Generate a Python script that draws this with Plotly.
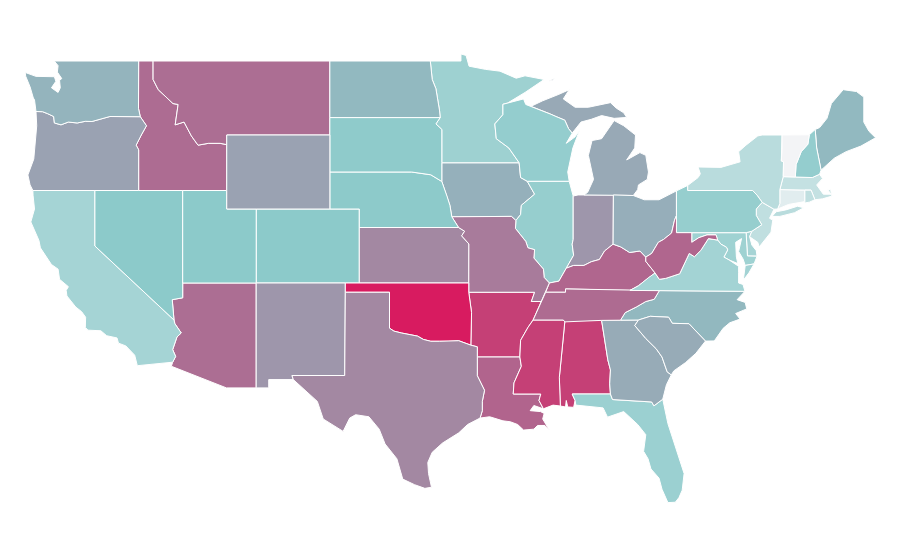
import plotly.graph_objects as go
from plotly.colors import sample_colorscale

# values (0 = the teal midpoint of the scale)
states = ["AL","AR","AZ","CA","CO","CT","DC","DE","FL","GA","IA","ID","IL","IN","KS","KY","LA","MA","MD","ME","MI","MN","MO","MS","MT","NC","ND","NE","NH","NJ","NM","NV","NY","OH","OK","OR","PA","RI","SC","SD","TN","TX","UT","VA","VT","WA","WI","WV","WY"]
values = [78,78,50,-24,0,-83,-10,-25,-15,17,14,51,-10,28,36,55,56,-54,-18,9,18,-17,43,78,50,10,9,-1,-8,-50,28,0,-44,15,100,22,-10,-50,17,-3,52,36,0,-22,-100,12,-8,55,22]

# geo subplots need the cdn topojson, which can't be fetched here, so the
# state outlines are typed by hand as lon lat rings and drawn on plain axes
outlines = {
    "WA": ["-122.76 49,-117.03 49,-117.04 46.43,-116.92 45.99,-118.98 46,-119.3 45.93,-120.2 45.73,-120.65 45.74,-121.2 45.65,-121.8 45.7,-122.3 45.55,-122.75 45.65,-122.8 46,-123.2 46.15,-123.55 46.26,-124 46.27,-124.07 46.6,-124.1 46.9,-124.18 47,-124.4 47.6,-124.7 48.18,-124.73 48.38,-124 48.17,-123.1 48.15,-122.75 48.15,-122.65 47.9,-122.95 47.55,-122.5 47.3,-122.35 47.55,-122.4 47.95,-122.25 48.05,-122.55 48.4,-122.5 48.75"],
    "OR": ["-116.92 45.99,-116.5 45.5,-116.85 45,-117.2 44.45,-117.03 44.2,-117.03 42,-120 42,-124.21 42,-124.4 42.3,-124.55 42.84,-124.15 43.7,-124.07 44.6,-123.95 45.5,-124 46.27,-123.55 46.26,-123.2 46.15,-122.8 46,-122.75 45.65,-122.3 45.55,-121.8 45.7,-121.2 45.65,-120.65 45.74,-120.2 45.73,-119.3 45.93,-118.98 46"],
    "CA": ["-124.21 42,-120 42,-120 39,-114.63 35,-114.57 34.8,-114.14 34.3,-114.43 34.08,-114.72 33.4,-114.52 33.03,-114.72 32.72,-117.12 32.53,-117.25 32.85,-117.3 33.1,-117.9 33.6,-118.4 33.75,-118.5 34.03,-119.2 34.15,-119.6 34.42,-120.47 34.45,-120.65 34.6,-120.63 35.15,-120.9 35.45,-121.3 35.7,-121.9 36.3,-121.95 36.6,-121.8 36.8,-122.05 36.95,-122.4 37.2,-122.5 37.75,-122.95 38,-123.7 38.9,-123.8 39.3,-124.35 40.3,-124.1 41,-124.2 41.75"],
    "NV": ["-120 42,-117.03 42,-114.04 42,-114.04 37,-114.04 36.2,-114.75 36.1,-114.63 35,-120 39"],
    "ID": ["-117.03 49,-116.05 49,-116.05 48,-115.7 47.45,-114.7 46.7,-114.35 46.65,-114.55 45.55,-113.95 45.7,-113.45 44.95,-113 44.45,-112.3 44.55,-111.5 44.55,-111.05 44.48,-111.05 42,-114.04 42,-117.03 42,-117.03 44.2,-117.2 44.45,-116.85 45,-116.5 45.5,-116.92 45.99,-117.04 46.43"],
    "MT": ["-116.05 49,-104.05 49,-104.05 45.94,-104.05 45,-111.05 45,-111.05 44.48,-111.5 44.55,-112.3 44.55,-113 44.45,-113.45 44.95,-113.95 45.7,-114.55 45.55,-114.35 46.65,-114.7 46.7,-115.7 47.45,-116.05 48"],
    "WY": ["-111.05 45,-104.05 45,-104.05 43,-104.05 41,-109.05 41,-111.05 41,-111.05 42,-111.05 44.48"],
    "UT": ["-114.04 42,-111.05 42,-111.05 41,-109.05 41,-109.05 37,-114.04 37"],
    "CO": ["-109.05 41,-104.05 41,-102.05 41,-102.05 40,-102.05 37,-103 37,-109.05 37"],
    "AZ": ["-114.04 37,-109.05 37,-109.05 31.33,-111.07 31.33,-114.81 32.5,-114.72 32.72,-114.52 33.03,-114.72 33.4,-114.43 34.08,-114.14 34.3,-114.57 34.8,-114.63 35,-114.75 36.1,-114.04 36.2"],
    "NM": ["-109.05 37,-103 37,-103 36.5,-103.04 32,-106.62 32,-106.53 31.78,-108.2 31.78,-108.2 31.33,-109.05 31.33"],
    "ND": ["-104.05 49,-97.23 49,-97.1 48,-96.85 47.5,-96.6 46.3,-96.56 45.94,-104.05 45.94"],
    "SD": ["-104.05 45.94,-96.56 45.94,-96.85 45.6,-96.45 45.3,-96.45 43.5,-96.45 42.49,-97.2 42.85,-98.5 43,-104.05 43"],
    "NE": ["-104.05 43,-98.5 43,-97.2 42.85,-96.45 42.49,-96.1 41.7,-95.9 41.2,-95.77 40.58,-95.31 40,-102.05 40,-102.05 41,-104.05 41"],
    "KS": ["-102.05 40,-95.31 40,-94.9 39.8,-95.1 39.55,-94.61 39.11,-94.62 37,-102.05 37"],
    "OK": ["-103 37,-102.05 37,-94.62 37,-94.62 36.5,-94.43 35.4,-94.48 33.64,-95.3 33.88,-96 33.85,-96.6 33.85,-97.2 33.85,-97.7 33.95,-98.1 34.13,-99.2 34.3,-99.7 34.4,-100 34.56,-100 36.5,-103 36.5"],
    "TX": ["-106.62 32,-103.04 32,-103 36.5,-100 36.5,-100 34.56,-99.7 34.4,-99.2 34.3,-98.1 34.13,-97.7 33.95,-97.2 33.85,-96.6 33.85,-96 33.85,-95.3 33.88,-94.48 33.64,-94.04 33.55,-94.04 33,-94.04 31.99,-93.55 31.2,-93.7 30.6,-93.7 30.1,-93.85 29.7,-94.7 29.35,-95.3 28.9,-96.4 28.35,-97.1 27.85,-97.4 27.3,-97.35 26.7,-97.15 25.96,-97.6 25.9,-98.3 26.1,-99.1 26.4,-99.5 27.5,-100.3 28.3,-100.7 29.1,-101.4 29.77,-102.3 29.88,-102.7 29.7,-103.15 28.98,-104.5 29.65,-104.9 30.6,-106 31.4,-106.53 31.78"],
    "MN": ["-97.23 49,-95.15 49,-95.15 49.38,-94.8 49.3,-94.6 48.72,-93.5 48.55,-92.5 48.45,-91.4 48.07,-90.8 48.2,-89.5 48,-90.8 47.3,-92 46.72,-92.3 46.66,-92.3 46.1,-92.85 45.6,-92.75 44.8,-91.9 44.3,-91.2 43.5,-96.45 43.5,-96.45 45.3,-96.85 45.6,-96.56 45.94,-96.6 46.3,-96.85 47.5,-97.1 48"],
    "IA": ["-96.45 43.5,-91.2 43.5,-91.1 42.7,-90.65 42.5,-90.15 41.8,-91.05 41.2,-91.1 40.7,-91.42 40.38,-91.72 40.6,-95.77 40.58,-95.9 41.2,-96.1 41.7,-96.45 42.49"],
    "MO": ["-95.77 40.58,-91.72 40.6,-91.42 40.38,-91.45 39.95,-90.75 39.25,-90.6 38.9,-90.15 38.8,-90.2 38.35,-89.55 37.75,-89.5 37.3,-89.15 37,-89.4 36.5,-89.7 36,-90.37 36,-90.15 36.5,-94.62 36.5,-94.62 37,-94.61 39.11,-95.1 39.55,-94.9 39.8,-95.31 40"],
    "AR": ["-94.62 36.5,-90.15 36.5,-90.37 36,-89.7 36,-90.25 35,-90.6 34.6,-91.1 33.9,-91.15 33,-94.04 33,-94.04 33.55,-94.48 33.64,-94.43 35.4"],
    "LA": ["-94.04 33,-91.15 33,-91.05 32.5,-91.55 31.6,-91.6 31,-89.73 31,-89.85 30.65,-89.55 30.2,-90.2 30.38,-90.45 30.1,-89.75 30.05,-89.5 29.95,-89.6 29.65,-89.15 29.05,-89.45 29.3,-89.95 29.3,-90.2 29.1,-90.9 29.05,-91.3 29.35,-91.8 29.5,-92.3 29.55,-93.2 29.77,-93.85 29.7,-93.7 30.1,-93.7 30.6,-93.55 31.2,-94.04 31.99"],
    "MS": ["-90.25 35,-88.2 35,-88.1 34.9,-88.47 31.9,-88.4 30.35,-88.9 30.4,-89.55 30.2,-89.85 30.65,-89.73 31,-91.6 31,-91.55 31.6,-91.05 32.5,-91.15 33,-91.1 33.9,-90.6 34.6"],
    "AL": ["-88.2 35,-85.6 34.98,-85.18 32.85,-85 32.3,-85.05 31.55,-85 31,-87.6 31,-87.4 30.65,-87.5 30.28,-87.9 30.3,-88 30.65,-88.05 30.3,-88.4 30.35,-88.47 31.9,-88.1 34.9"],
    "TN": ["-89.4 36.5,-88.05 36.5,-88.05 36.68,-83.68 36.6,-81.68 36.59,-82.03 36.12,-82.6 36,-83.25 35.7,-84 35.4,-84.32 34.99,-85.6 34.98,-88.1 34.9,-88.2 35,-90.25 35,-89.7 36"],
    "KY": ["-89.4 36.5,-88.05 36.5,-88.05 36.68,-83.68 36.6,-83.1 36.85,-82.4 37.3,-81.97 37.54,-82.6 38.17,-82.6 38.4,-83 38.73,-83.7 38.65,-84.3 38.95,-84.82 39.1,-85.4 38.73,-85.75 38.27,-86.3 38.15,-86.8 37.95,-87.5 37.95,-88 37.8,-88.5 37.1,-89.15 37"],
    "WV": ["-82.6 38.4,-82.2 38.6,-81.75 39.2,-81.4 39.35,-80.85 39.7,-80.65 40.4,-80.52 40.64,-80.52 39.72,-79.48 39.72,-79.48 39.2,-79 39.45,-78.45 39.6,-77.83 39.6,-77.72 39.32,-78.35 39.4,-78.87 38.76,-79.3 38.42,-79.65 38.6,-80.3 37.5,-81.25 37.25,-81.68 37.2,-81.97 37.54,-82.6 38.17"],
    "VA": ["-83.68 36.6,-81.68 36.59,-75.87 36.55,-76 36.92,-76.3 37,-76.3 37.55,-76.3 37.9,-76.95 38.25,-77.3 38.4,-77.04 38.79,-77.12 38.93,-77.5 39.1,-77.72 39.32,-78.35 39.4,-78.87 38.76,-79.3 38.42,-79.65 38.6,-80.3 37.5,-81.25 37.25,-81.68 37.2,-81.97 37.54,-82.4 37.3,-83.1 36.85",
           "-75.25 38.03,-75.85 37.95,-75.98 37.15,-75.6 37.55"],
    "MD": ["-79.48 39.72,-75.79 39.72,-75.7 38.46,-75.05 38.45,-75.25 38.03,-75.85 37.95,-76 38.3,-76.3 38.7,-76.1 39.4,-76.5 39.2,-76.45 38.4,-76.35 38.05,-76.95 38.25,-77.3 38.4,-77.04 38.79,-77.12 38.93,-77.5 39.1,-77.72 39.32,-77.83 39.6,-78.45 39.6,-79 39.45,-79.48 39.2"],
    "DE": ["-75.79 39.72,-75.4 39.8,-75.55 39.5,-75.4 39.05,-75.1 38.75,-75.05 38.45,-75.7 38.46"],
    "DC": ["-77.12 38.93,-77.04 38.99,-76.91 38.89,-77.04 38.79"],
    "NC": ["-84.32 34.99,-84 35.4,-83.25 35.7,-82.6 36,-82.03 36.12,-81.68 36.59,-75.87 36.55,-76.4 36.1,-75.85 35.95,-75.75 35.6,-76.5 35.35,-76.2 35.05,-76.9 34.85,-77.35 34.55,-77.95 33.87,-78.55 33.86,-79.67 34.8,-80.8 34.82,-81.05 35.15,-82.3 35.2,-83.1 35"],
    "SC": ["-83.1 35,-82.3 35.2,-81.05 35.15,-80.8 34.82,-79.67 34.8,-78.55 33.86,-79.2 33.2,-79.9 32.7,-80.7 32.25,-80.87 32.03,-81.15 32.2,-81.5 33,-81.9 33.45,-82.6 34,-83.35 34.7"],
    "GA": ["-85.6 34.98,-84.32 34.99,-83.1 35,-83.35 34.7,-82.6 34,-81.9 33.45,-81.5 33,-81.15 32.2,-80.87 32.03,-81.2 31.5,-81.45 30.72,-82.05 30.36,-82.2 30.57,-84.86 30.7,-85 31,-85.05 31.55,-85 32.3,-85.18 32.85"],
    "FL": ["-87.6 31,-85 31,-84.86 30.7,-82.2 30.57,-82.05 30.36,-81.45 30.72,-81.1 29.4,-80.45 27.8,-80 26.7,-80.13 25.8,-80.35 25.4,-80.6 25.15,-81.1 25.13,-81.5 25.85,-81.7 26.45,-82.25 26.95,-82.45 27.5,-82.75 27.9,-82.6 28.8,-83.15 29.35,-84.1 30.05,-85.2 29.75,-85.5 30.25,-87.35 30.4,-87.4 30.65"],
    "IL": ["-90.65 42.5,-87.8 42.5,-87.53 41.7,-87.53 39.35,-87.6 39.1,-87.5 38.5,-88 37.8,-88.5 37.1,-89.15 37,-89.5 37.3,-89.55 37.75,-90.2 38.35,-90.15 38.8,-90.6 38.9,-90.75 39.25,-91.45 39.95,-91.42 40.38,-91.1 40.7,-91.05 41.2,-90.15 41.8"],
    "IN": ["-87.53 41.7,-87.2 41.76,-86.8 41.76,-84.8 41.76,-84.82 39.1,-85.4 38.73,-85.75 38.27,-86.3 38.15,-86.8 37.95,-87.5 37.95,-88 37.8,-87.5 38.5,-87.6 39.1,-87.53 39.35"],
    "OH": ["-84.8 41.76,-83.45 41.73,-82.7 41.5,-81.7 41.5,-80.52 41.98,-80.52 40.64,-80.65 40.4,-80.85 39.7,-81.4 39.35,-81.75 39.2,-82.2 38.6,-82.6 38.4,-83 38.73,-83.7 38.65,-84.3 38.95,-84.82 39.1"],
    "MI": ["-86.8 41.76,-84.8 41.76,-83.45 41.73,-83.15 42.05,-83.1 42.3,-82.5 42.6,-82.42 43,-82.6 43.9,-83 44.05,-83.9 43.65,-83.35 44.3,-83.3 45,-84.1 45.5,-84.75 45.78,-85.1 45.4,-85.6 44.8,-86.25 44.7,-86.5 43.9,-86.15 42.6,-86.55 41.9",
           "-90.4 46.55,-89.6 46.85,-88.5 47.2,-87.8 47.45,-88.2 46.95,-87.4 46.5,-86.5 46.5,-85 46.75,-84.6 46.45,-84.1 46.2,-83.9 45.95,-84.75 45.9,-85.6 46.05,-86.3 45.85,-87 45.7,-87.6 45.1,-87.85 45.35,-88.1 45.8,-88.7 46,-89.1 46.14",
           "-89.2 47.9,-88.75 48.1,-88.95 47.95"],
    "WI": ["-92.3 46.66,-92 46.72,-90.9 46.95,-90.75 46.65,-90.4 46.55,-89.1 46.14,-88.7 46,-88.1 45.8,-87.85 45.35,-87.6 45.1,-88 44.55,-87.4 44.9,-87.1 45.25,-87.55 44.3,-87.9 43,-87.8 42.5,-90.65 42.5,-91.1 42.7,-91.2 43.5,-91.9 44.3,-92.75 44.8,-92.85 45.6,-92.3 46.1"],
    "PA": ["-80.52 41.98,-80.1 42.15,-79.76 42.27,-79.76 42,-75.35 42,-75.05 41.75,-74.7 41.36,-75.1 41,-75.1 40.65,-74.73 40.15,-75.4 39.8,-75.79 39.72,-79.48 39.72,-80.52 39.72,-80.52 40.64"],
    "NY": ["-79.76 42.27,-79.05 42.7,-78.9 42.9,-79.05 43.27,-77.5 43.25,-76.4 43.5,-76.2 43.55,-76.3 44.1,-75.8 44.45,-75 44.95,-74.7 45,-73.35 45,-73.35 44.2,-73.4 43.6,-73.25 43.55,-73.27 42.75,-73.5 42.05,-73.5 41.3,-73.65 41,-73.9 40.99,-74.7 41.36,-75.05 41.75,-75.35 42,-79.76 42",
           "-74.03 40.6,-73.75 40.85,-73.1 40.95,-72.3 41.15,-71.87 41.07,-72.5 40.8,-73.5 40.6"],
    "NJ": ["-74.7 41.36,-73.9 40.99,-74.2 40.5,-73.98 40.4,-74.1 39.75,-74.9 38.95,-75 39.2,-75.55 39.5,-75.4 39.8,-74.73 40.15,-75.1 40.65,-75.1 41"],
    "CT": ["-73.5 42.05,-72.8 42.03,-71.8 42.02,-71.8 41.4,-72.9 41.25,-73.65 41,-73.5 41.3"],
    "RI": ["-71.8 42.02,-71.38 42.02,-71.12 41.5,-71.5 41.37,-71.85 41.32,-71.8 41.4"],
    "MA": ["-73.5 42.05,-73.27 42.75,-72.45 42.73,-71.3 42.7,-70.8 42.88,-70.6 42.65,-71 42.3,-70.55 41.8,-70 41.8,-70.05 42.05,-70.25 42.05,-69.95 41.7,-70.6 41.55,-71.12 41.5,-71.38 42.02,-71.8 42.02,-72.8 42.03"],
    "VT": ["-73.35 45,-71.5 45.01,-71.6 44.5,-72.05 44.1,-72.4 43.4,-72.45 42.73,-73.27 42.75,-73.25 43.55,-73.4 43.6,-73.35 44.2"],
    "NH": ["-71.5 45.01,-71.1 45.3,-71 44.3,-70.7 43.1,-70.8 42.88,-71.3 42.7,-72.45 42.73,-72.4 43.4,-72.05 44.1,-71.6 44.5"],
    "ME": ["-71.1 45.3,-70.8 45.4,-70.3 45.9,-70 46.7,-69.2 47.45,-68.3 47.35,-67.8 47.05,-67.8 45.7,-67.45 45.2,-67 44.85,-68 44.4,-69 44.1,-69.8 43.75,-70.7 43.1,-71 44.3"],
}

colorscale = [[0, "#f3f4f6"], [0.5, "#8ccaca"], [0.75, "#ac6e93"], [1, "#d81b60"]]
zmin = -100
zmax = 100


def ring_xy(rings):
    xs = []
    ys = []
    for ring in rings:
        points = [p.split() for p in ring.split(",")]
        points.append(points[0])
        xs += [float(p[0]) for p in points] + [None]
        ys += [float(p[1]) for p in points] + [None]
    return xs, ys


fig = go.Figure()

for name, value in zip(states, values):
    lon, lat = ring_xy(outlines[name])
    color = sample_colorscale(colorscale, (value - zmin) / (zmax - zmin))[0]
    fig.add_trace(go.Scatter(
        x=lon,
        y=lat,
        mode="lines",
        fill="toself",
        fillcolor=color,
        line=dict(color="white", width=1),
        name=name,
        hoverinfo="name",
        showlegend=False,
    ))

fig.update_xaxes(visible=False, range=[-125.9, -64.8])
fig.update_yaxes(visible=False, range=[21.595, 51.865])
fig.update_layout(
    width=900,
    height=560,
    margin=dict(l=0, r=0, t=0, b=0),
    paper_bgcolor="white",
    plot_bgcolor="white",
)

fig.write_html("out.html")
